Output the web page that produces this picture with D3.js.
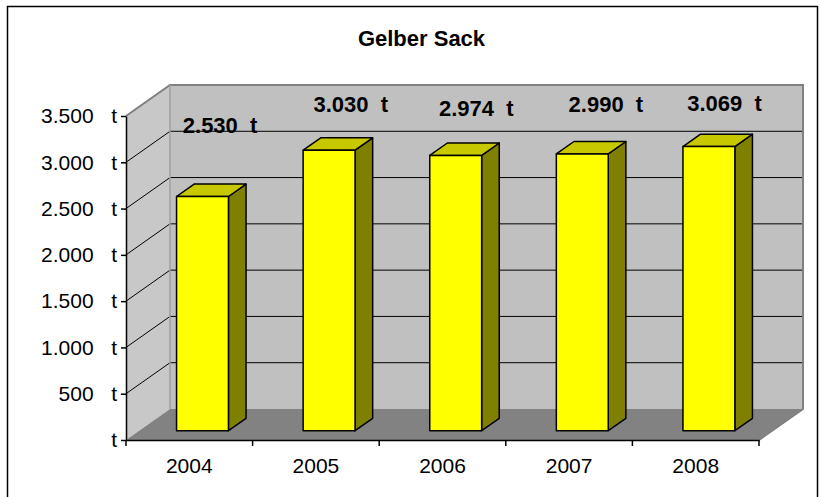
<!DOCTYPE html>
<html>
<head>
<meta charset="utf-8">
<script src="https://cdn.jsdelivr.net/npm/d3@7/dist/d3.min.js"></script>
<style>
  html, body { margin: 0; padding: 0; background: #fff; }
  svg text { font-family: Arial, "Liberation Sans", sans-serif; }
</style>
</head>
<body>
<div id="chart"></div>
<script>
'use strict';

// data
var years = ['2004', '2005', '2006', '2007', '2008'];
var tonnes = [2530, 3030, 2974, 2990, 3069];
var yTicks = [0, 500, 1000, 1500, 2000, 2500, 3000, 3500];
var chartTitle = 'Gelber Sack';

// excel put the value labels a bit irregularly, small pixel nudges per label
var labelNudgeX = [-2, 2, 1, 4, -4];
var labelNudgeY = [-24, 1, 0, -3, 4];

var W = 821, H = 497;
var front = {left: 126, right: 759, top: 116, bottom: 440};
var depth = {dx: 44, dy: -31};
var barDepth = [0.30, 0.70];

var deDE = d3.formatLocale({decimal: ',', thousands: '.', grouping: [3], currency: ['', ' €']});
var fmt = deDE.format(',.0f');

var svg = d3.select('#chart').append('svg')
	.attr('width', W)
	.attr('height', H);

svg.append('rect')
	.attr('x', 7.5).attr('y', 6.5)
	.attr('width', 810).attr('height', 500)
	.attr('fill', '#fff')
	.attr('stroke', '#000')
	.attr('stroke-width', 1.5);

var x = d3.scaleBand()
	.domain(years)
	.range([front.left, front.right]);

var y = d3.scaleLinear()
	.domain([0, 3500])
	.range([front.bottom, front.top]);

function proj(px, py, d) {
	return [px + d * depth.dx, py + d * depth.dy];
}
function pts(list) {
	return list.map(function(p){ return p.join(','); }).join(' ');
}

var x0 = x.range()[0], x1 = x.range()[1];
var yb = y(0), yt = y(3500);

// walls
var walls = svg.append('g').attr('class', 'walls');

walls.append('polygon')
	.attr('points', pts([proj(x0, yb, 1), proj(x0, yt, 1), proj(x1, yt, 1), proj(x1, yb, 1)]))
	.attr('fill', '#c0c0c0');

walls.append('polygon')
	.attr('points', pts([[x0, yb], [x0, yt], proj(x0, yt, 1), proj(x0, yb, 1)]))
	.attr('fill', '#c8c8c8');

walls.append('polygon')
	.attr('points', pts([[x0, yb], [x1, yb], proj(x1, yb, 1), proj(x0, yb, 1)]))
	.attr('fill', '#828282');

// gridlines
var grid = yTicks.filter(function(v){ return v > 0 && v < 3500; });
walls.selectAll('line.gback').data(grid).enter().append('line')
	.attr('class', 'gback')
	.attr('x1', function(v){ return proj(x0, y(v), 1)[0]; })
	.attr('y1', function(v){ return proj(x0, y(v), 1)[1]; })
	.attr('x2', function(v){ return proj(x1, y(v), 1)[0]; })
	.attr('y2', function(v){ return proj(x1, y(v), 1)[1]; })
	.attr('stroke', '#000').attr('stroke-width', 1);

walls.selectAll('line.gside').data(grid).enter().append('line')
	.attr('class', 'gside')
	.attr('x1', x0).attr('y1', function(v){ return y(v); })
	.attr('x2', function(v){ return proj(x0, y(v), 1)[0]; })
	.attr('y2', function(v){ return proj(x0, y(v), 1)[1]; })
	.attr('stroke', '#000').attr('stroke-width', 1);

// wall edges
walls.append('polyline')
	.attr('points', pts([[x0, yt], proj(x0, yt, 1), proj(x1, yt, 1), proj(x1, yb, 1), [x1, yb]]))
	.attr('fill', 'none')
	.attr('stroke', '#808080')
	.attr('stroke-width', 2);
walls.append('line')
	.attr('x1', proj(x0, yt, 1)[0]).attr('y1', proj(x0, yt, 1)[1])
	.attr('x2', proj(x0, yb, 1)[0]).attr('y2', proj(x0, yb, 1)[1])
	.attr('stroke', '#a0a0a0').attr('stroke-width', 1.5);

// bars
var bw = x.bandwidth() * 0.41;
var bars = svg.append('g').attr('class', 'bars')
	.selectAll('g.bar')
	.data(years.map(function(d, i){ return {name: d, value: tonnes[i], i: i}; }))
	.enter().append('g')
	.attr('class', 'bar');

function barGeom(d) {
	var cx = x(d.name) + x.bandwidth() / 2;
	var l = cx - bw / 2, r = cx + bw / 2;
	var b = y(0), t = y(d.value);
	return {
		fl: proj(l, b, barDepth[0]), fr: proj(r, b, barDepth[0]),
		tl: proj(l, t, barDepth[0]), tr: proj(r, t, barDepth[0]),
		btl: proj(l, t, barDepth[1]), btr: proj(r, t, barDepth[1]),
		bbr: proj(r, b, barDepth[1])
	};
}

bars.append('polygon')
	.attr('points', function(d){ var g = barGeom(d); return pts([g.fr, g.tr, g.btr, g.bbr]); })
	.attr('fill', '#808000')
	.attr('stroke', '#000').attr('stroke-width', 1.5).attr('stroke-linejoin', 'round');

bars.append('polygon')
	.attr('points', function(d){ var g = barGeom(d); return pts([g.tl, g.tr, g.btr, g.btl]); })
	.attr('fill', '#c8c800')
	.attr('stroke', '#000').attr('stroke-width', 1.5).attr('stroke-linejoin', 'round');

bars.append('polygon')
	.attr('points', function(d){ var g = barGeom(d); return pts([g.fl, g.tl, g.tr, g.fr]); })
	.attr('fill', '#ffff00')
	.attr('stroke', '#000').attr('stroke-width', 1.5).attr('stroke-linejoin', 'round');

// value labels
bars.append('text')
	.attr('x', function(d){ return barGeom(d).btl[0] + bw / 2 + 2 + labelNudgeX[d.i]; })
	.attr('y', function(d){ return barGeom(d).btl[1] - 27 + labelNudgeY[d.i]; })
	.attr('text-anchor', 'middle')
	.attr('font-size', 22)
	.attr('font-weight', 'bold')
	.style('white-space', 'pre')
	.text(function(d){ return fmt(d.value) + '  t'; });

// y axis
var yAxis = d3.axisLeft(y)
	.tickValues(yTicks)
	.tickSizeInner(5)
	.tickSizeOuter(0)
	.tickPadding(4)
	.tickFormat(function(v){ return v === 0 ? 't' : fmt(v) + '   t'; });

var gy = svg.append('g')
	.attr('transform', 'translate(' + x0 + ',0)')
	.call(yAxis);
gy.selectAll('text')
	.attr('font-size', 21)
	.attr('font-family', null)
	.attr('fill', '#000')
	.style('white-space', 'pre');
gy.selectAll('line, path').attr('stroke', '#000').attr('stroke-width', 1.5);

// x axis
var xAxis = d3.axisBottom(x)
	.tickSize(0)
	.tickPadding(18);

var gx = svg.append('g')
	.attr('transform', 'translate(0,' + yb + ')')
	.call(xAxis);
gx.selectAll('text')
	.attr('font-size', 21)
	.attr('font-family', null)
	.attr('fill', '#000');
gx.select('path').attr('stroke', '#000').attr('stroke-width', 1.5);

var edges = [x0].concat(years.map(function(d){ return x(d) + x.bandwidth(); }));
gx.selectAll('line.edge').data(edges).enter().append('line')
	.attr('class', 'edge')
	.attr('x1', function(v){ return v; }).attr('x2', function(v){ return v; })
	.attr('y1', 0).attr('y2', 6)
	.attr('stroke', '#000').attr('stroke-width', 1.5);

// title
svg.append('text')
	.attr('x', W / 2 + 11)
	.attr('y', 46)
	.attr('text-anchor', 'middle')
	.attr('font-size', 22)
	.attr('font-weight', 'bold')
	.text(chartTitle);
</script>
</body>
</html>
